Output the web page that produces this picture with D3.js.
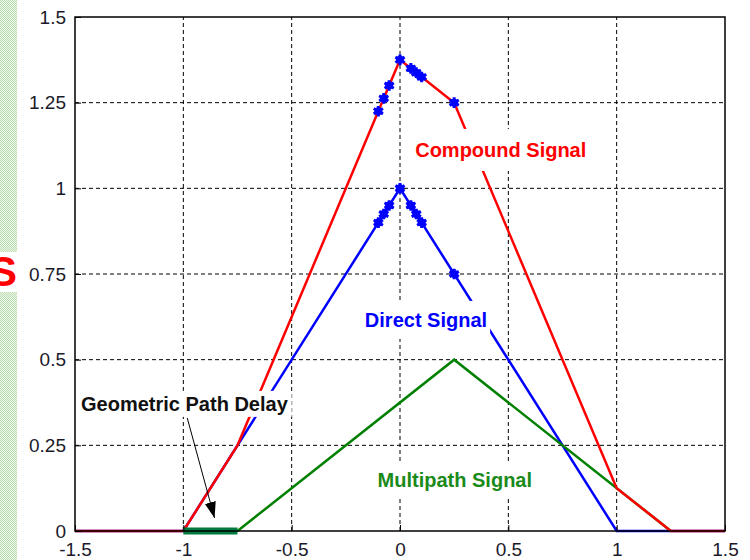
<!DOCTYPE html>
<html>
<head>
<meta charset="utf-8">
<script src="https://cdn.jsdelivr.net/npm/d3@7"></script>
<style>
  body { margin: 0; background: #fff; }
  svg { display: block; }
</style>
</head>
<body>
<svg id="chart"></svg>
<script>
// valores
const xTicks = [-1.5, -1, -0.5, 0, 0.5, 1, 1.5];
const yTicks = [0, 0.25, 0.5, 0.75, 1, 1.25, 1.5];
const xTickLabels = ["-1.5", "-1", "-0.5", "0", "0.5", "1", "1.5"];
const yTickLabels = ["0", "0.25", "0.5", "0.75", "1", "1.25", "1.5"];

// sinal direto (triângulo)
const directX = [-1.5, -1, 0, 1, 1.5];
const directY = [0, 0, 1, 0, 0];

// sinal de multipercurso (atrasado 0.25, amplitude 0.5)
const multipathX = [-0.75, 0.25, 1.25];
const multipathY = [0, 0.5, 0];

// atraso geométrico (barra verde no eixo)
const delayX = [-1, -0.75];
const delayY = [0, 0];

// sinal composto
const compoundX = [-1.5, -1, -0.75, 0, 0.25, 1, 1.25, 1.5];
const compoundY = [0, 0, 0.25, 1.375, 1.25, 0.125, 0, 0];

// pontos marcados (asteriscos azuis)
const markerX = [-0.1, -0.075, -0.05, 0, 0.05, 0.075, 0.1, 0.25];
const markerDirectY = [0.9, 0.925, 0.95, 1, 0.95, 0.925, 0.9, 0.75];
const markerCompoundY = [1.225, 1.2625, 1.3, 1.375, 1.35, 1.3375, 1.325, 1.25];

const width = 750, height = 560;
const margin = { left: 75, right: 25, top: 17, bottom: 29 };

const svg = d3.select("#chart").attr("width", width).attr("height", height);

// faixa lateral verde (fundo do slide)
const defs = svg.append("defs");
const pat = defs.append("pattern")
  .attr("id", "dots").attr("width", 2).attr("height", 2)
  .attr("patternUnits", "userSpaceOnUse");
pat.append("rect").attr("width", 2).attr("height", 2).attr("fill", "#eef7ea");
pat.append("rect").attr("width", 1).attr("height", 1).attr("fill", "#b9ddb0");
pat.append("rect").attr("x", 1).attr("y", 1).attr("width", 1).attr("height", 1).attr("fill", "#b9ddb0");

svg.append("rect").attr("x", 0).attr("y", 0).attr("width", 17).attr("height", height)
  .attr("fill", "url(#dots)");
svg.append("rect").attr("x", 0).attr("y", 252).attr("width", 18).attr("height", 40).attr("fill", "#fff");
svg.append("text")
  .attr("x", -11).attr("y", 286)
  .attr("font-family", "Liberation Sans, Arial, sans-serif")
  .attr("font-weight", "bold").attr("font-size", 42)
  .attr("fill", "#ff0000")
  .text("S");

defs.append("marker")
  .attr("id", "arrow").attr("viewBox", "0 0 10 10")
  .attr("refX", 10).attr("refY", 5)
  .attr("markerWidth", 16).attr("markerHeight", 16)
  .attr("markerUnits", "userSpaceOnUse")
  .attr("orient", "auto")
  .append("path").attr("d", "M0,1.5 L10,5 L0,8.5 Z").attr("fill", "#000");

const x = d3.scaleLinear().domain([-1.5, 1.5]).range([margin.left, width - margin.right]);
const y = d3.scaleLinear().domain([0, 1.5]).range([height - margin.bottom, margin.top]);

const g = svg.append("g");

// grade tracejada
g.append("g").selectAll("line")
  .data(xTicks.slice(1, -1))
  .join("line")
  .attr("x1", d => x(d)).attr("x2", d => x(d))
  .attr("y1", y(0)).attr("y2", y(1.5))
  .attr("stroke", "#000").attr("stroke-width", 1).attr("stroke-dasharray", "4,3");

g.append("g").selectAll("line")
  .data(yTicks.slice(1, -1))
  .join("line")
  .attr("y1", d => y(d)).attr("y2", d => y(d))
  .attr("x1", x(-1.5)).attr("x2", x(1.5))
  .attr("stroke", "#000").attr("stroke-width", 1).attr("stroke-dasharray", "4,3");

const line = d3.line().x(d => x(d[0])).y(d => y(d[1]));
const pts = (xs, ys) => xs.map((v, i) => [v, ys[i]]);

// ordem de desenho: azul, verde, vermelho, barra verde
g.append("path").datum(pts(directX, directY))
  .attr("d", line).attr("fill", "none").attr("stroke", "#0000ff").attr("stroke-width", 2.5);
g.append("path").datum(pts(multipathX, multipathY))
  .attr("d", line).attr("fill", "none").attr("stroke", "#008000").attr("stroke-width", 2.5);
g.append("path").datum(pts(compoundX, compoundY))
  .attr("d", line).attr("fill", "none").attr("stroke", "#ff0000").attr("stroke-width", 2.5);
g.append("path").datum(pts(delayX, delayY))
  .attr("d", line).attr("fill", "none").attr("stroke", "#007a3d").attr("stroke-width", 7);

// asteriscos
const star = d3.symbol(d3.symbolAsterisk, 80);
const markerPts = pts(markerX, markerDirectY).concat(pts(markerX, markerCompoundY));
g.append("g").selectAll("path")
  .data(markerPts)
  .join("path")
  .attr("transform", d => `translate(${x(d[0])},${y(d[1])})`)
  .attr("d", star)
  .attr("fill", "none").attr("stroke", "#0000ff").attr("stroke-width", 3);
g.append("g").selectAll("circle")
  .data(markerPts)
  .join("circle")
  .attr("cx", d => x(d[0])).attr("cy", d => y(d[1])).attr("r", 4)
  .attr("fill", "#0000ff");

// rótulos com fundo branco (estilo text do MATLAB)
const labels = [
  { text: "Compound Signal", cx: 0.465, cy: 1.112, color: "#ff0000", padY: 14 },
  { text: "Direct Signal", cx: 0.12, cy: 0.616, color: "#0000ff", padY: 12 },
  { text: "Geometric Path Delay", cx: -0.995, cy: 0.371, color: "#111111", padY: 6 },
  { text: "Multipath Signal", cx: 0.253, cy: 0.149, color: "#1a8a1a", padY: 12 }
];

labels.forEach(l => {
  const lg = g.append("g");
  const t = lg.append("text")
    .attr("x", x(l.cx)).attr("y", y(l.cy))
    .attr("text-anchor", "middle").attr("dominant-baseline", "central")
    .attr("font-family", "Liberation Sans, Arial, sans-serif")
    .attr("font-weight", "bold").attr("font-size", 20)
    .attr("fill", l.color)
    .text(l.text);
  const bb = t.node().getBBox();
  lg.insert("rect", "text")
    .attr("x", bb.x - 3).attr("y", bb.y - l.padY + 4)
    .attr("width", bb.width + 6).attr("height", bb.height + 2 * l.padY - 8)
    .attr("fill", "#fff");
});

// seta do atraso geométrico
g.append("line")
  .attr("x1", x(-0.982)).attr("y1", y(0.33))
  .attr("x2", x(-0.856)).attr("y2", y(0.038))
  .attr("stroke", "#000").attr("stroke-width", 1)
  .attr("marker-end", "url(#arrow)");

// moldura e eixos
g.append("rect")
  .attr("x", x(-1.5)).attr("y", y(1.5))
  .attr("width", x(1.5) - x(-1.5)).attr("height", y(0) - y(1.5))
  .attr("fill", "none").attr("stroke", "#000").attr("stroke-width", 1.5);

const xAxis = d3.axisBottom(x).tickValues(xTicks).tickSize(-6).tickPadding(12)
  .tickFormat((d, i) => xTickLabels[i]);
const yAxis = d3.axisLeft(y).tickValues(yTicks).tickSize(-6).tickPadding(9)
  .tickFormat((d, i) => yTickLabels[i]);

const gx = g.append("g").attr("transform", `translate(0,${y(0)})`).call(xAxis);
const gy = g.append("g").attr("transform", `translate(${x(-1.5)},0)`).call(yAxis);
[gx, gy].forEach(a => {
  a.select(".domain").remove();
  a.selectAll("line").attr("stroke", "#000");
  a.selectAll("text")
    .attr("fill", "#1a1a2a")
    .style("font-family", "Liberation Sans, Arial, sans-serif")
    .style("font-size", "19px");
});
</script>
</body>
</html>
